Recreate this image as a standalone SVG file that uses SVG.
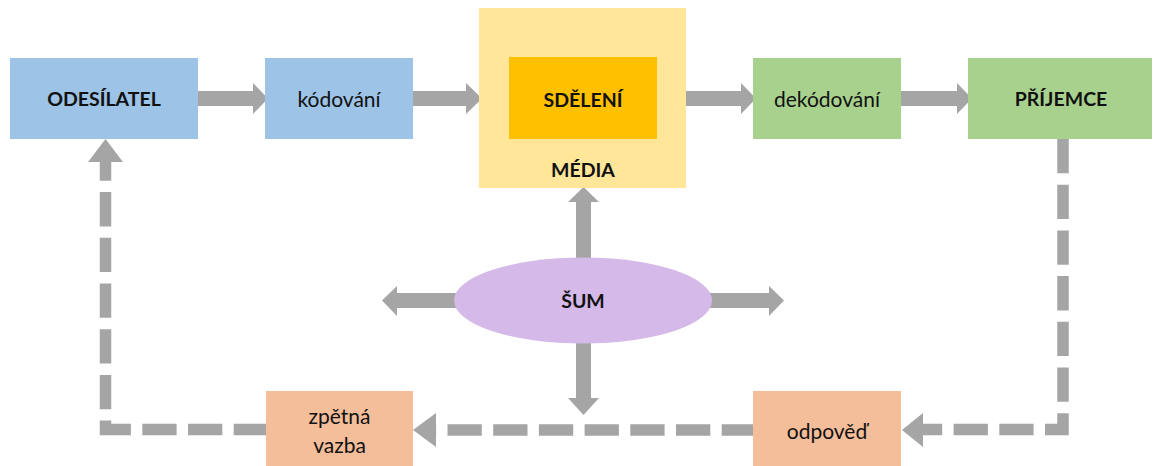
<svg xmlns="http://www.w3.org/2000/svg" width="1163" height="466" viewBox="0 0 1163 466">
  <style>
    .lbl { font-family: Lato, "Open Sans", "Liberation Sans", sans-serif; font-size: 21px; fill: #111111; text-anchor: middle; dominant-baseline: central; }
    .bold { font-weight: bold; font-size: 19.5px; }
    .blue { fill: #9DC3E6; }
    .green { fill: #A9D18E; }
    .peach { fill: #F5BE9B; }
    .arrow { fill: #A5A5A5; }
    .dash { fill: none; stroke: #A5A5A5; stroke-width: 11.5; stroke-dasharray: 34.3 11.4; stroke-linejoin: miter; }
  </style>

  <rect width="1163" height="466" fill="#FFFFFF"/>

  <!-- connectors -->
  <g id="connectors">
    <!-- main flow: solid block arrows -->
    <polygon class="arrow" points="196,91 253,91 253,83 268,98.5 253,114 253,106 196,106"/>
    <polygon class="arrow" points="410,91 466,91 466,83 482,98.5 466,114 466,106 410,106"/>
    <polygon class="arrow" points="683,91 741,91 741,83 756,98.5 741,114 741,106 683,106"/>
    <polygon class="arrow" points="898,91 957,91 957,83 972,98.5 957,114 957,106 898,106"/>

    <!-- noise radiating in four directions -->
    <polygon class="arrow" points="576,260 576,202 568,202 583.5,187 599,202 591,202 591,260"/>
    <polygon class="arrow" points="576,341 576,398 568,398 583.5,415 599,398 591,398 591,341"/>
    <polygon class="arrow" points="457,293 397,293 397,286 382,300.5 397,316 397,308 457,308"/>
    <polygon class="arrow" points="709,293 769,293 769,286 784,300.5 769,316 769,308 709,308"/>

    <!-- feedback loop: dashed -->
    <path class="dash" d="M1063,139 V429.5 H923"/>
    <polygon class="arrow" points="923,413 902,430 923,447"/>
    <path class="dash" d="M756,430 H436"/>
    <polygon class="arrow" points="436,413 413,430 436,447"/>
    <path class="dash" d="M268,429.5 H105.5 V162"/>
    <polygon class="arrow" points="88,162 105.5,139 123,162"/>
  </g>

  <g id="odesilatel">
    <rect class="blue" x="10" y="58" width="188" height="81"/>
    <text class="lbl bold" x="104" y="98.5">ODESÍLATEL</text>
  </g>

  <g id="kodovani">
    <rect class="blue" x="265" y="58" width="148" height="81"/>
    <text class="lbl" x="339" y="98.5">kódování</text>
  </g>

  <g id="media">
    <rect x="479" y="8" width="207" height="180" fill="#FFE699"/>
    <text class="lbl bold" x="583" y="169">MÉDIA</text>
  </g>

  <g id="sdeleni">
    <rect x="509" y="57" width="148" height="82" fill="#FFC000"/>
    <text class="lbl bold" x="583" y="99">SDĚLENÍ</text>
  </g>

  <g id="dekodovani">
    <rect class="green" x="753" y="58" width="148" height="81"/>
    <text class="lbl" x="827" y="98.5">dekódování</text>
  </g>

  <g id="prijemce">
    <rect class="green" x="968" y="58" width="184" height="81"/>
    <text class="lbl bold" x="1061" y="98.5">PŘÍJEMCE</text>
  </g>

  <g id="sum">
    <ellipse cx="583" cy="300.5" rx="129" ry="43" fill="#D5B9E9"/>
    <text class="lbl bold" x="583" y="300.5">ŠUM</text>
  </g>

  <g id="zpetna-vazba">
    <rect class="peach" x="266" y="391" width="147" height="75"/>
    <text class="lbl" x="339.5" y="415">zpětná</text>
    <text class="lbl" x="339.5" y="444">vazba</text>
  </g>

  <g id="odpoved">
    <rect class="peach" x="753" y="391" width="148" height="75"/>
    <text class="lbl" x="827" y="430">odpověď</text>
  </g>
</svg>
